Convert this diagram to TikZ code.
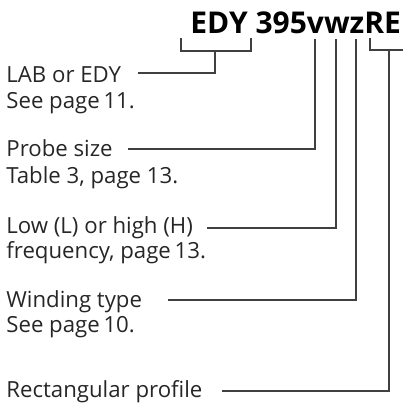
\documentclass[tikz,border=0pt]{standalone}
\usepackage{fontspec}
\setmainfont{Open Sans}
\usepackage{tikz}
\usetikzlibrary{positioning}

\begin{document}
\begin{tikzpicture}[
    x=0.5pt, y=-0.5pt,
    title/.style={anchor=base west, inner sep=0pt, font=\fontsize{15}{18}\selectfont\bfseries},
    label/.style={anchor=base west, inner sep=0pt, font=\fontsize{11.1}{13}\selectfont, text=black!85},
    leader/.style={draw=black!75, line width=0.6pt}
]
    \useasboundingbox (0,0) rectangle (403,403);

    % Type code
    \node[title] (code) at (190,33) {EDY 395vwzRE};

    % Labels
    \node[label] (lab) at (6,82) {LAB or EDY};
    \node[label] (labref) at (6,108) {See page\,11.};
    \node[label] (probe) at (6,156) {Probe size};
    \node[label] (proberef) at (6,183) {Table 3, page 13.};
    \node[label] (freq) at (6,233) {Low (L) or high (H)};
    \node[label] (freqref) at (6,258) {frequency, page\,13.};
    \node[label] (wind) at (6,307) {Winding type};
    \node[label] (windref) at (6,332) {See page\,10.};
    \node[label] (rect) at (6,397) {Rectangular profile};

    % Leader points
    \coordinate (edyL) at (181,38);
    \coordinate (edyR) at (251,38);
    \coordinate (edyS) at (215,51);
    \coordinate (labE) at (138,73);
    \coordinate (vT) at (315,39);
    \coordinate (probeE) at (128,149);
    \coordinate (wT) at (336,39);
    \coordinate (freqE) at (207,228);
    \coordinate (zT) at (356,39);
    \coordinate (windE) at (168,300);
    \coordinate (reL) at (370,38);
    \coordinate (reR) at (408,50);
    \coordinate (reS) at (389,50);
    \coordinate (rectE) at (222,391);

    % Leaders
    \draw[leader] (edyL) |- (edyS) -| (edyR);
    \draw[leader] (edyS) |- (labE);
    \draw[leader] (vT) |- (probeE);
    \draw[leader] (wT) |- (freqE);
    \draw[leader] (zT) |- (windE);
    \draw[leader] (reL) |- (reR);
    \draw[leader] (reS) |- (rectE);
\end{tikzpicture}
\end{document}
